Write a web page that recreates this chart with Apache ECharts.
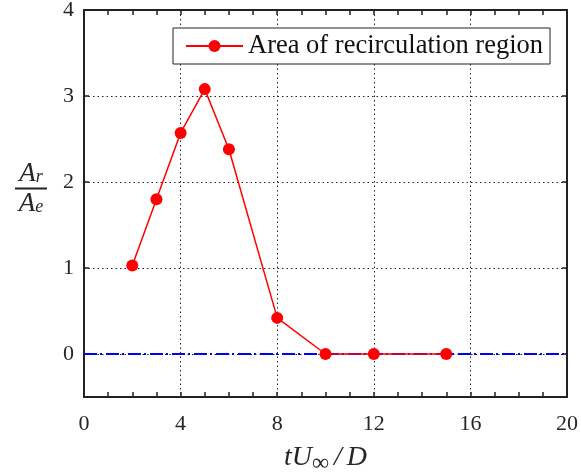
<!DOCTYPE html>
<html>
<head>
<meta charset="utf-8">
<script src="https://cdn.jsdelivr.net/npm/echarts@6/dist/echarts.min.js"></script>
<style>
html,body{margin:0;padding:0;background:#fff;}
#c{width:581px;height:474px;}
</style>
</head>
<body>
<div id="c"></div>
<script>
// Data
const tValues = [2, 3, 4, 5, 6, 8, 10, 12, 15];
const areaRatio = [1.03, 1.80, 2.57, 3.08, 2.38, 0.42, 0, 0, 0];
const zeroLineX = [0, 20];
const zeroLineY = [0, 0];
const yTickValues = [0, 1, 2, 3, 4];
const seriesName = 'Area of recirculation region';

const FONT = '"Liberation Serif", "DejaVu Serif", serif';
const TXT = '#262626';

const chart = echarts.init(document.getElementById('c'), null, {renderer: 'canvas'});

const axisCommon = {
  axisLine: {show: true, onZero: false, lineStyle: {color: '#222', width: 2}},
  axisTick: {show: true, inside: true, length: 5, lineStyle: {color: '#222', width: 1.5}},
};

chart.setOption({
  animation: false,
  backgroundColor: '#fff',
  grid: {left: 84, right: 14, top: 10, bottom: 77, containLabel: false, outerBoundsMode: 'none'},
  legend: {
    data: [seriesName],
    left: 173, top: 28,
    itemWidth: 57, itemHeight: 15,
    backgroundColor: '#fff',
    borderColor: '#222', borderWidth: 1,
    padding: [4, 7, 4, 12],
    itemGap: 0,
    textStyle: {fontFamily: FONT, fontSize: 26.5, color: '#111', lineHeight: 28}
  },
  xAxis: [
    Object.assign({}, axisCommon, {
      type: 'value', min: 0, max: 20, interval: 4,
      position: 'bottom',
      minorTick: {show: true, splitNumber: 4, length: 5, lineStyle: {color: '#222', width: 1.5}},
      axisLabel: {fontFamily: FONT, fontSize: 22, color: TXT, margin: 16},
      splitLine: {show: true, lineStyle: {color: '#222', type: [1.5, 3], width: 1}},
      name: '{i|tU}{s|∞}{d|/}{i|D}',
      nameLocation: 'middle', nameGap: 40,
      nameTextStyle: {
        rich: {
          i: {fontFamily: FONT, fontStyle: 'italic', fontSize: 28, color: TXT, verticalAlign: 'top', lineHeight: 32},
          d: {fontFamily: FONT, fontStyle: 'italic', fontSize: 28, color: TXT, verticalAlign: 'top', lineHeight: 32, padding: [0, 5, 0, 4]},
          s: {fontFamily: FONT, fontSize: 24, color: TXT, verticalAlign: 'bottom', lineHeight: 32, padding: [12, 1, 0, 0]}
        }
      }
    }),
    Object.assign({}, axisCommon, {
      type: 'value', min: 0, max: 20, interval: 4,
      position: 'top',
      minorTick: {show: true, splitNumber: 4, length: 5, lineStyle: {color: '#222', width: 1.5}},
      axisLabel: {show: false},
      splitLine: {show: false}
    })
  ],
  yAxis: [
    Object.assign({}, axisCommon, {
      type: 'value', min: -0.5, max: 4, interval: 1,
      position: 'left',
      axisLabel: {fontFamily: FONT, fontSize: 22, color: TXT, margin: 10, padding: [4, 0, 0, 0],
        customValues: yTickValues},
      axisTick: {show: true, inside: true, length: 5, lineStyle: {color: '#222', width: 1.5}, customValues: yTickValues},
      splitLine: {show: true, lineStyle: {color: '#222', type: [1.5, 3], width: 1}},
      name: '{a|A}{s|r}\n{bar| }\n{a|A}{s|e}',
      nameLocation: 'middle', nameRotate: 0, nameGap: 53,
      nameTextStyle: {
        align: 'center',
        padding: [0, 0, 30, 0],
        rich: {
          a: {fontFamily: FONT, fontStyle: 'italic', fontSize: 27, color: TXT, lineHeight: 26, verticalAlign: 'top'},
          s: {fontFamily: FONT, fontStyle: 'italic', fontSize: 18, color: TXT, lineHeight: 26, verticalAlign: 'bottom', padding: [8, 0, 0, 0]},
          bar: {width: 32, height: 2, lineHeight: 4, fontSize: 1, backgroundColor: '#222'}
        }
      }
    }),
    Object.assign({}, axisCommon, {
      type: 'value', min: -0.5, max: 4, interval: 1,
      position: 'right',
      axisLabel: {show: false},
      axisTick: {show: true, inside: true, length: 5, lineStyle: {color: '#222', width: 1.5}, customValues: yTickValues},
      splitLine: {show: false}
    })
  ],
  series: [
    {
      name: 'zero',
      type: 'line',
      data: zeroLineX.map((x, i) => [x, zeroLineY[i]]),
      showSymbol: false,
      symbol: 'none',
      lineStyle: {color: '#0000ff', width: 2, type: [13, 3, 2, 4]},
      z: 2,
      silent: true
    },
    {
      name: seriesName,
      type: 'line',
      data: tValues.map((t, i) => [t, areaRatio[i]]),
      symbol: 'circle',
      symbolSize: 12,
      itemStyle: {color: '#ff0000'},
      lineStyle: {color: '#ff0000', width: 1.5},
      z: 3
    }
  ]
});
</script>
</body>
</html>
